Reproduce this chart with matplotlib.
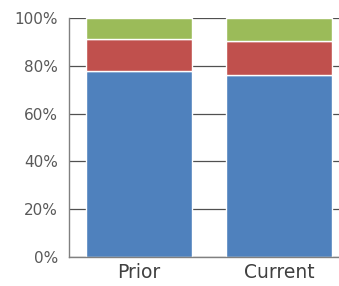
import matplotlib
matplotlib.use("Agg")
import matplotlib.pyplot as plt
from matplotlib.ticker import PercentFormatter

# datos del grafico (porcentajes apilados)
categorias = ["Prior", "Current"]
azul = [77.9, 76.3]
rojo = [13.3, 14.1]
verde = [8.8, 9.6]

colores = ["#4F81BD", "#C0504D", "#9BBB59"]

fig = plt.figure(figsize=(3.39, 2.86), dpi=100)
ax = fig.add_axes([0.2035, 0.1014, 0.7965, 0.8356])

x = range(len(categorias))
ancho = 0.757
base = [0, 0]
for serie, color in zip([azul, rojo, verde], colores):
    ax.bar(x, serie, ancho, bottom=base, color=color, edgecolor="white",
           linewidth=1, zorder=2)
    base = [b + s for b, s in zip(base, serie)]

ax.set_xlim(-0.5, 1.43)
ax.set_ylim(0, 100)
ax.set_yticks(range(0, 101, 20))
ax.yaxis.set_major_formatter(PercentFormatter(decimals=0))
ax.set_xticks(list(x))
ax.set_xticklabels(categorias)

ax.grid(axis="y", color="#505050", linewidth=0.9, zorder=0)
ax.set_axisbelow(True)
for lado in ["top", "right"]:
    ax.spines[lado].set_visible(False)
for lado in ["left", "bottom"]:
    ax.spines[lado].set_color("#808080")
    ax.spines[lado].set_linewidth(1)

ax.tick_params(axis="y", length=0, pad=8, labelsize=11, labelcolor="#595959")
ax.tick_params(axis="x", length=0, pad=4, labelsize=13.5, labelcolor="#404040")

fig.savefig("out.png", dpi=100)
